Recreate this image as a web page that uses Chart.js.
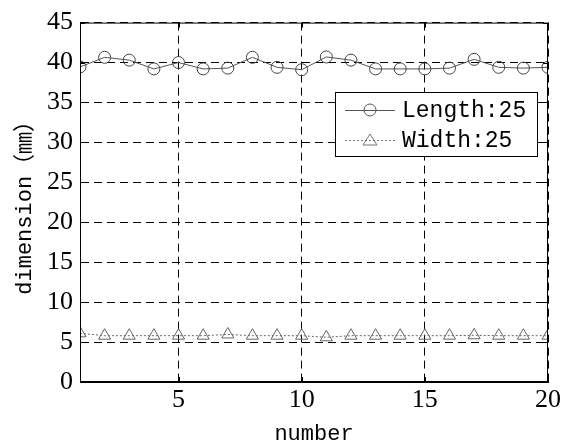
<!DOCTYPE html>
<html><head><meta charset="utf-8">
<script src="https://cdn.jsdelivr.net/npm/chart.js@4/dist/chart.umd.min.js"></script>
<style>html,body{margin:0;padding:0;background:#fff}#wrap{width:572px;height:443px}</style>
</head><body><div id="wrap"><canvas id="c" width="572" height="443"></canvas></div>
<script>
const numbers = [1,2,3,4,5,6,7,8,9,10,11,12,13,14,15,16,17,18,19,20];
const lengthValues = [39.45,40.65,40.3,39.2,40.0,39.2,39.3,40.65,39.4,39.1,40.7,40.3,39.2,39.2,39.2,39.3,40.4,39.4,39.3,39.4];
const widthValues = [6.1,5.8,5.8,5.8,5.8,5.8,5.95,5.8,5.8,5.8,5.6,5.8,5.8,5.8,5.8,5.8,5.85,5.8,5.8,5.8];
const xTickValues = [5,10,15,20];
const seriesNames = ['Length:25','Width:25'];

const serif = "'Liberation Serif','Times New Roman',serif";
const mono = "'Liberation Mono','Noto Sans CJK SC',monospace";

const frame = {
  id:'frame',
  afterDraw(chart){
    const {ctx, chartArea:a, scales} = chart;
    ctx.save();
    ctx.strokeStyle='#000'; ctx.lineWidth=1; ctx.setLineDash([]);
    ctx.strokeRect(a.left+0.5,a.top+0.5,a.right-a.left-1,a.bottom-a.top-1);
    ctx.beginPath();
    scales.y.ticks.forEach(t=>{const y=Math.round(scales.y.getPixelForValue(t.value))+0.5;
      ctx.moveTo(a.left,y);ctx.lineTo(a.left+5,y);ctx.moveTo(a.right,y);ctx.lineTo(a.right-5,y);});
    scales.x.ticks.forEach(t=>{const x=Math.round(scales.x.getPixelForValue(t.value))+0.5;
      ctx.moveTo(x,a.bottom);ctx.lineTo(x,a.bottom-5);ctx.moveTo(x,a.top);ctx.lineTo(x,a.top+5);});
    ctx.stroke();
    const L=335,T=92,W=202,H=64;
    ctx.fillStyle='#fff'; ctx.fillRect(L,T,W,H);
    ctx.strokeStyle='#000'; ctx.strokeRect(L+0.5,T+0.5,W,H);
    const rows=[{y:110,dash:[],color:'#555',shape:'circle'},{y:140,dash:[2,2],color:'#777',shape:'tri'}];
    rows.forEach((r,i)=>{
      ctx.strokeStyle=r.color; ctx.lineWidth=1; ctx.setLineDash(r.dash);
      ctx.beginPath(); ctx.moveTo(345,r.y+0.5); ctx.lineTo(395,r.y+0.5); ctx.stroke();
      ctx.setLineDash([]);
      ctx.beginPath();
      if(r.shape==='circle'){ctx.arc(370,r.y,6,0,Math.PI*2);}
      else {ctx.moveTo(370,r.y-6);ctx.lineTo(377,r.y+5);ctx.lineTo(363,r.y+5);ctx.closePath();}
      ctx.stroke();
      ctx.fillStyle='#000'; ctx.font="23px "+mono; ctx.textBaseline='middle'; ctx.textAlign='left';
      ctx.fillText(seriesNames[i],402,r.y+1);
    });
    ctx.restore();
  }
};

new Chart(document.getElementById('c'),{
  type:'line',
  data:{datasets:[
    {label:seriesNames[0],data:numbers.map((n,i)=>({x:n,y:lengthValues[i]})),
     borderColor:'#555',borderWidth:1,pointStyle:'circle',pointRadius:6,pointBorderColor:'#444',
     pointBackgroundColor:'rgba(0,0,0,0)',pointBorderWidth:1,tension:0},
    {label:seriesNames[1],data:numbers.map((n,i)=>({x:n,y:widthValues[i]})),
     borderColor:'#666',borderWidth:1,borderDash:[2,2],pointStyle:'triangle',pointRadius:7,pointBorderColor:'#666',
     pointBackgroundColor:'rgba(0,0,0,0)',pointBorderWidth:1,tension:0}
  ]},
  options:{
    responsive:false,animation:false,devicePixelRatio:1,
    layout:{padding:{top:17,right:24,left:0,bottom:0}},
    plugins:{legend:{display:false},tooltip:{enabled:false}},
    scales:{
      x:{type:'linear',min:1,max:20,
        afterBuildTicks:s=>{s.ticks=xTickValues.map(v=>({value:v}));},
        afterFit:s=>{s.height=61;},
        grid:{color:'#000',drawTicks:false,lineWidth:1},
        border:{display:true,color:'#000',dash:[8,5]},
        ticks:{font:{family:serif,size:26},color:'#000',padding:3,maxRotation:0},
        title:{display:true,text:'number',font:{family:mono,size:22,lineHeight:0.8},color:'#000',padding:0}
      },
      y:{min:0,max:45,
        afterFit:s=>{s.width=80;},
        grid:{color:'#000',drawTicks:false,lineWidth:1},
        border:{display:true,color:'#000',dash:[8,5]},
        ticks:{stepSize:5,font:{family:serif,size:26},color:'#000',padding:7},
        title:{display:true,text:'dimension（㎜）',font:{family:mono,size:22,lineHeight:1.2},color:'#000',padding:{top:12,bottom:0}}
      }
    }
  },
  plugins:[frame]
});
</script></body></html>
